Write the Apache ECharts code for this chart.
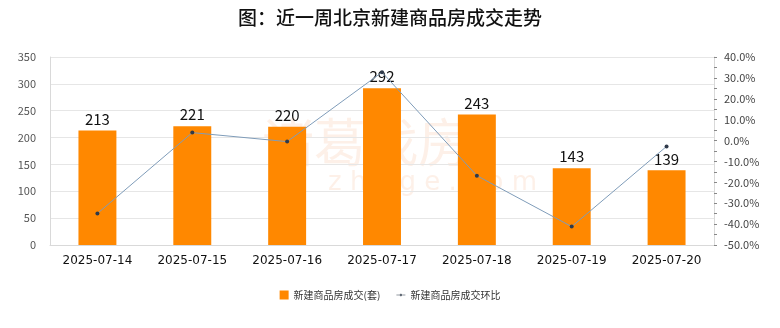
<!DOCTYPE html>
<html>
<head>
<meta charset="utf-8">
<script src="https://cdn.jsdelivr.net/npm/echarts@6/dist/echarts.min.js"></script>
<style>
html,body{margin:0;padding:0;background:#fff;}
#chart{width:780px;height:328px;}
</style>
</head>
<body>
<div id="chart"></div>
<script>
// 近一周北京新建商品房成交：套数与环比
var dates = ['2025-07-14','2025-07-15','2025-07-16','2025-07-17','2025-07-18','2025-07-19','2025-07-20'];
var deals = [213, 221, 220, 292, 243, 143, 139];
var momPct = [-34.9, 3.8, -0.5, 32.7, -16.8, -41.2, -2.8];
var leftTicks = [0, 50, 100, 150, 200, 250, 300, 350];
var rightTicks = [-50, -40, -30, -20, -10, 0, 10, 20, 30, 40];

var chart = echarts.init(document.getElementById('chart'));
var font = '"Noto Sans CJK SC", "Noto Sans", sans-serif';

// legend glyph for the ratio line: thin line with a dot in the middle
var lineIcon = 'path://M0,5.5 L14,5.5 L14,6.5 L0,6.5 Z M5,6 A2,2 0 1,0 9,6 A2,2 0 1,0 5,6 Z';

chart.setOption({
  animation: false,
  textStyle: { fontFamily: font },
  title: {
    text: '图：近一周北京新建商品房成交走势',
    left: 'center',
    top: 3,
    textStyle: { fontSize: 19, fontWeight: 500, color: '#111', fontFamily: font }
  },
  graphic: [{
    type: 'text',
    left: 262, top: 116,
    style: { text: '诸葛找房', font: '52px "Noto Sans CJK SC"', fill: 'rgba(238,140,80,0.13)', letterSpacing: 12 }
  }, {
    type: 'text',
    left: 328, top: 170,
    style: { text: 'z h u g e . c o m', font: '26px "DejaVu Sans"', fill: 'rgba(238,140,80,0.13)' }
  }],
  legend: {
    bottom: 23,
    left: 'center',
    itemGap: 16,
    itemWidth: 9,
    itemHeight: 9,
    textStyle: { fontSize: 10, color: '#333' },
    data: [
      { name: '新建商品房成交(套)', icon: 'rect' },
      { name: '新建商品房成交环比', icon: lineIcon, itemStyle: { color: '#2f3a4a' } }
    ]
  },
  grid: { left: 50, right: 66, top: 57, bottom: 83 },
  xAxis: {
    type: 'category',
    data: dates,
    axisLine: { lineStyle: { color: '#d9d9d9' } },
    axisTick: { show: false },
    axisLabel: { color: '#111', fontSize: 12, margin: 10, fontFamily: '"DejaVu Sans", sans-serif' }
  },
  yAxis: [{
    type: 'value',
    min: leftTicks[0],
    max: leftTicks[leftTicks.length - 1],
    interval: 50,
    axisLine: { show: true, lineStyle: { color: '#d9d9d9' } },
    axisTick: { show: false },
    axisLabel: { color: '#555', fontSize: 11, margin: 14 },
    splitLine: { lineStyle: { color: '#e6e6e6' } }
  }, {
    type: 'value',
    min: rightTicks[0],
    max: rightTicks[rightTicks.length - 1],
    interval: 10,
    position: 'right',
    axisLine: { show: true, lineStyle: { color: '#d9d9d9' } },
    axisTick: { show: true, length: 3, lineStyle: { color: '#888' } },
    minorTick: { show: true, splitNumber: 2, length: 3, lineStyle: { color: '#888' } },
    axisLabel: { color: '#444', fontSize: 11, margin: 10, formatter: function (v) { return v.toFixed(1) + '%'; } },
    splitLine: { show: false }
  }],
  series: [{
    name: '新建商品房成交(套)',
    type: 'bar',
    data: deals,
    barWidth: '40%',
    itemStyle: { color: '#FF8800' },
    label: { show: true, position: 'top', color: '#111', fontSize: 15, distance: 4 }
  }, {
    name: '新建商品房成交环比',
    type: 'line',
    yAxisIndex: 1,
    data: momPct,
    symbol: 'circle',
    symbolSize: 4,
    lineStyle: { color: '#7f9cb9', width: 1 },
    itemStyle: { color: '#2f3a4a' },
    z: 5
  }]
});
</script>
</body>
</html>
